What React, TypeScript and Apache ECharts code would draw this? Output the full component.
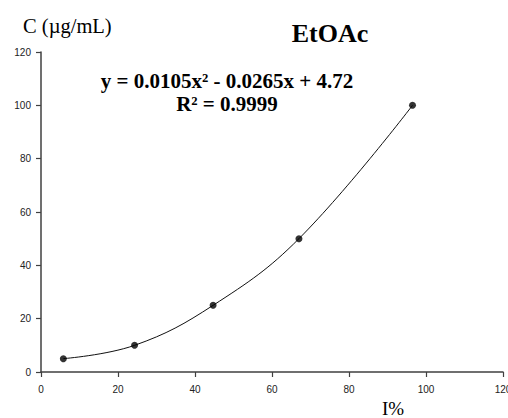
import React, { useEffect, useRef } from "react";
import * as echarts from "echarts";

// Data
const intensityPct = [5.8, 24.3, 44.7, 67.0, 96.5];
const concentration = [5, 10, 25, 50, 100];
const xTickValues = [0, 20, 40, 60, 80, 100, 120];
const yTickValues = [0, 20, 40, 60, 80, 100, 120];

const chartTitle = "EtOAc";
const equationText = "y = 0.0105x² - 0.0265x + 4.72";
const r2Text = "R² = 0.9999";
const yAxisTitle = "C (µg/mL)";
const xAxisTitle = "I%";

const SERIF = "'Liberation Serif', 'Times New Roman', serif";
const SANS = "'Liberation Sans', Arial, sans-serif";

export default function App() {
  const ref = useRef<HTMLDivElement>(null);

  useEffect(() => {
    document.body.style.margin = "0";
    document.body.style.overflow = "hidden";
    if (!ref.current) return;
    const chart = echarts.init(ref.current, undefined, { renderer: "svg", width: 508, height: 418 });
    const points = intensityPct.map((x, i) => [x, concentration[i]]);

    const axisCommon = {
      type: "value" as const,
      splitLine: { show: false },
      axisLine: { show: true, lineStyle: { color: "#404040", width: 1.5 } },
      axisTick: { show: true, length: 5, lineStyle: { color: "#404040", width: 1.2 } },
      axisLabel: { color: "#222", fontFamily: SANS, fontSize: 10 },
    };

    chart.setOption({
      animation: false,
      backgroundColor: "#ffffff",
      grid: {
        left: 41,
        right: 5,
        top: 52,
        bottom: 46,
        containLabel: false,
        outerBoundsMode: "none",
      },
      xAxis: {
        ...axisCommon,
        min: xTickValues[0],
        max: xTickValues[xTickValues.length - 1],
        interval: xTickValues[1] - xTickValues[0],
        axisLabel: { ...axisCommon.axisLabel, margin: 12, showMaxLabel: true, showMinLabel: true },
      },
      yAxis: {
        ...axisCommon,
        min: yTickValues[0],
        max: yTickValues[yTickValues.length - 1],
        interval: yTickValues[1] - yTickValues[0],
        axisLabel: { ...axisCommon.axisLabel, margin: 10 },
      },
      series: [
        {
          type: "line",
          data: points,
          smooth: 0.4,
          showSymbol: false,
          symbol: "none",
          lineStyle: { color: "#111", width: 1 },
          z: 2,
        },
        {
          type: "scatter",
          data: points,
          symbol: "circle",
          symbolSize: 7,
          itemStyle: { color: "#000" },
          z: 3,
        },
      ],
      graphic: [
        {
          type: "text",
          x: 330,
          y: 33.5,
          style: {
            text: chartTitle,
            fontFamily: SERIF,
            fontSize: 26,
            fontWeight: "bold",
            fill: "#000",
            textAlign: "center",
            textVerticalAlign: "middle",
          },
        },
        {
          type: "text",
          x: 227,
          y: 80.7,
          style: {
            text: equationText,
            fontFamily: SERIF,
            fontSize: 21,
            fontWeight: "bold",
            fill: "#000",
            textAlign: "center",
            textVerticalAlign: "middle",
          },
        },
        {
          type: "text",
          x: 227,
          y: 104.2,
          style: {
            text: r2Text,
            fontFamily: SERIF,
            fontSize: 21,
            fontWeight: "bold",
            fill: "#000",
            textAlign: "center",
            textVerticalAlign: "middle",
          },
        },
        {
          type: "text",
          x: 23,
          y: 26,
          style: {
            text: yAxisTitle,
            fontFamily: SERIF,
            fontSize: 20.5,
            fill: "#000",
            textAlign: "left",
            textVerticalAlign: "middle",
          },
        },
        {
          type: "text",
          x: 382,
          y: 408,
          style: {
            text: xAxisTitle,
            fontFamily: SERIF,
            fontSize: 19,
            fill: "#000",
            textAlign: "left",
            textVerticalAlign: "middle",
          },
        },
      ],
    });

    return () => chart.dispose();
  }, []);

  return (
    <div
      ref={ref}
      style={{ position: "fixed", left: 0, top: 0, width: 508, height: 418 }}
    />
  );
}
